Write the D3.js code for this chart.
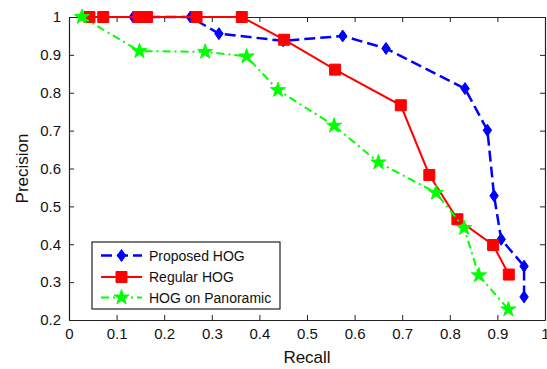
<!DOCTYPE html>
<html>
<head>
<meta charset="utf-8">
<script src="https://cdn.jsdelivr.net/npm/d3@7"></script>
<style>
  body { margin: 0; background: #fff; }
  svg { display: block; font-family: "Liberation Sans", Arial, sans-serif; }
</style>
</head>
<body>
<svg id="chart" width="547" height="369"></svg>
<script>
// Precision-recall curves, values
const proposedRecall    = [0.135, 0.16, 0.255, 0.315, 0.45, 0.575, 0.666, 0.832, 0.879, 0.893, 0.908, 0.956, 0.956];
const proposedPrecision = [1.0, 1.0, 1.0, 0.956, 0.937, 0.950, 0.917, 0.811, 0.701, 0.528, 0.413, 0.342, 0.261];

const regularRecall    = [0.043, 0.072, 0.146, 0.164, 0.268, 0.363, 0.452, 0.559, 0.697, 0.757, 0.816, 0.891, 0.924];
const regularPrecision = [1.0, 1.0, 1.0, 1.0, 1.0, 1.0, 0.940, 0.861, 0.767, 0.583, 0.466, 0.398, 0.320];

const panoRecall    = [0.027, 0.148, 0.286, 0.373, 0.439, 0.557, 0.650, 0.771, 0.830, 0.861, 0.923];
const panoPrecision = [1.0, 0.910, 0.908, 0.896, 0.807, 0.713, 0.616, 0.536, 0.443, 0.318, 0.228];

const xTicks = [0, 0.1, 0.2, 0.3, 0.4, 0.5, 0.6, 0.7, 0.8, 0.9, 1];
const yTicks = [0.2, 0.3, 0.4, 0.5, 0.6, 0.7, 0.8, 0.9, 1];

const seriesNames = ["Proposed HOG", "Regular HOG", "HOG on Panoramic"];

const margin = { left: 69, right: 2, top: 17, bottom: 49 };
const width = 547, height = 369;

const svg = d3.select("#chart");
const x = d3.scaleLinear().domain([0, 1]).range([margin.left, width - margin.right]);
const y = d3.scaleLinear().domain([0.2, 1]).range([height - margin.bottom, margin.top]);

const series = [
  { name: seriesNames[0], xs: proposedRecall, ys: proposedPrecision, color: "#0000ff", dash: "11,5", width: 2.5, marker: "diamond" },
  { name: seriesNames[1], xs: regularRecall, ys: regularPrecision, color: "#ff0000", dash: null, width: 2, marker: "square" },
  { name: seriesNames[2], xs: panoRecall, ys: panoPrecision, color: "#00ff00", dash: "8,4,2,4", width: 2, marker: "star" }
];

const markerPath = {
  diamond: "M0,-6L4.2,0L0,6L-4.2,0Z",
  square: "M-5.5,-5.5H5.5V5.5H-5.5Z",
  star: d3.symbol(d3.symbolStar, 70)()
};

// axes box with inward ticks on all four sides
const axisG = svg.append("g");
const xb = d3.axisBottom(x).tickValues(xTicks).tickSizeInner(-5).tickSizeOuter(0).tickPadding(8)
  .tickFormat(d => d === 0 || d === 1 ? d3.format("d")(d) : d3.format(".1f")(d));
const yl = d3.axisLeft(y).tickValues(yTicks).tickSizeInner(-5).tickSizeOuter(0).tickPadding(8)
  .tickFormat(d => d === 1 ? "1" : d3.format(".1f")(d));

axisG.append("g").attr("transform", `translate(0,${y(0.2)})`).call(xb);
axisG.append("g").attr("transform", `translate(${x(0)},0)`).call(yl);
axisG.append("g").attr("transform", `translate(0,${y(1)})`)
  .call(d3.axisTop(x).tickValues(xTicks).tickSizeInner(-5).tickSizeOuter(0).tickFormat(""));
axisG.append("g").attr("transform", `translate(${x(1)},0)`)
  .call(d3.axisRight(y).tickValues(yTicks).tickSizeInner(-5).tickSizeOuter(0).tickFormat(""));

axisG.selectAll(".domain").attr("stroke", "#222").attr("stroke-width", 1.2);
axisG.selectAll(".tick line").attr("stroke", "#222");
axisG.selectAll("text").attr("font-size", 15).attr("fill", "#111")
  .attr("font-family", "'Liberation Sans', Arial, sans-serif");

// curves
const line = d3.line().x(d => x(d[0])).y(d => y(d[1]));
series.forEach(s => {
  const pts = s.xs.map((v, i) => [v, s.ys[i]]);
  svg.append("path")
    .attr("d", line(pts))
    .attr("fill", "none")
    .attr("stroke", s.color)
    .attr("stroke-width", s.width)
    .attr("stroke-dasharray", s.dash);
  svg.append("g").selectAll("path")
    .data(pts)
    .enter().append("path")
    .attr("d", markerPath[s.marker])
    .attr("transform", d => `translate(${x(d[0])},${y(d[1])})`)
    .attr("fill", s.color)
    .attr("stroke", s.color)
    .attr("stroke-width", 1);
});

// axis titles
svg.append("text")
  .attr("x", (x(0) + x(1)) / 2)
  .attr("y", 363)
  .attr("text-anchor", "middle")
  .attr("font-size", 17)
  .attr("fill", "#111")
  .text("Recall");
svg.append("text")
  .attr("transform", `translate(28,${(y(0.2) + y(1)) / 2}) rotate(-90)`)
  .attr("text-anchor", "middle")
  .attr("font-size", 17)
  .attr("fill", "#111")
  .text("Precision");

// legend
const legend = svg.append("g");
legend.append("rect")
  .attr("x", 92).attr("y", 242).attr("width", 188).attr("height", 67)
  .attr("fill", "#fff").attr("stroke", "#222").attr("stroke-width", 1.2);
const rowY = [255.5, 277, 297.5];
series.forEach((s, i) => {
  const g = legend.append("g").attr("transform", `translate(0,${rowY[i]})`);
  g.append("line")
    .attr("x1", 101).attr("x2", 142).attr("y1", 0).attr("y2", 0)
    .attr("stroke", s.color).attr("stroke-width", s.width)
    .attr("stroke-dasharray", s.dash);
  g.append("path")
    .attr("d", markerPath[s.marker])
    .attr("transform", "translate(121.5,0)")
    .attr("fill", s.color).attr("stroke", s.color);
  g.append("text")
    .attr("x", 149).attr("y", 0).attr("dy", "0.36em")
    .attr("font-size", 14).attr("fill", "#111")
    .text(s.name);
});
</script>
</body>
</html>
